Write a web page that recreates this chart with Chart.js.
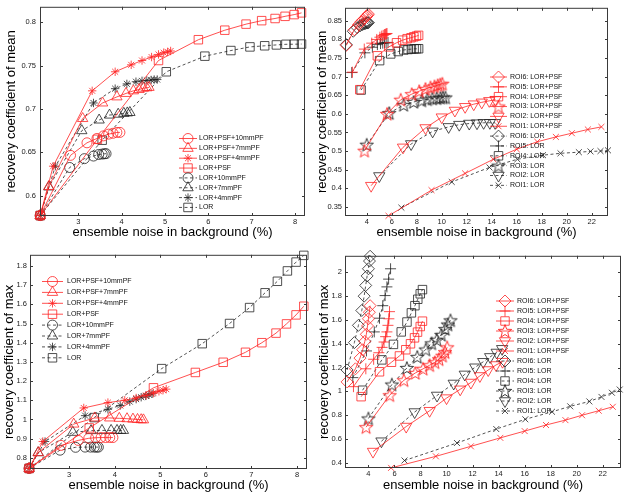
<!DOCTYPE html>
<html>
<head>
<meta charset="utf-8">
<script src="https://cdn.jsdelivr.net/npm/chart.js@4.4.0/dist/chart.umd.min.js"></script>
<style>
  body { margin: 0; background: #fff; }
  #wrap { position: relative; width: 630px; height: 496px; }
  .cell { position: absolute; width: 315px; height: 248px; }
</style>
</head>
<body>
<div id="wrap">
  <div class="cell" style="left:0;top:0"><canvas id="meanPf" width="315" height="248"></canvas></div>
  <div class="cell" style="left:315px;top:0"><canvas id="meanRoi" width="315" height="248"></canvas></div>
  <div class="cell" style="left:0;top:248px"><canvas id="maxPf" width="315" height="248"></canvas></div>
  <div class="cell" style="left:315px;top:248px"><canvas id="maxRoi" width="315" height="248"></canvas></div>
</div>
<script>
// ROI4 with post-filters (left column): noise x, mean RC, max RC
const pf10PsfX = [2.12, 2.82, 3.2, 3.43, 3.58, 3.7, 3.8, 3.89, 3.96];
const pf10PsfMean = [0.577, 0.6465, 0.661, 0.666, 0.669, 0.671, 0.672, 0.673, 0.673];
const pf10PsfMax = [0.745, 0.865, 0.891, 0.902, 0.905, 0.906, 0.906, 0.906, 0.906];

const pf7PsfX = [2.12, 2.32, 3.1, 3.56, 3.89, 4.1, 4.27, 4.4, 4.5, 4.58, 4.63];
const pf7PsfMean = [0.577, 0.6106, 0.689, 0.707, 0.714, 0.718, 0.721, 0.7225, 0.724, 0.7245, 0.725];
const pf7PsfMax = [0.745, 0.827, 0.976, 1.008, 1.008, 1.006, 1.004, 1.002, 1.0, 0.999, 0.998];

const pf4PsfX = [2.12, 2.42, 3.32, 3.85, 4.22, 4.47, 4.69, 4.85, 4.97, 5.06, 5.13];
const pf4PsfMean = [0.577, 0.634, 0.721, 0.743, 0.751, 0.756, 0.76, 0.763, 0.765, 0.766, 0.767];
const pf4PsfMax = [0.745, 0.885, 1.06, 1.088, 1.1, 1.112, 1.125, 1.137, 1.147, 1.153, 1.158];

const psfX = [2.12, 3.44, 4.85, 5.77, 6.38, 6.87, 7.23, 7.54, 7.77, 7.98, 8.15];
const psfMean = [0.577, 0.665, 0.756, 0.78, 0.791, 0.798, 0.802, 0.8045, 0.807, 0.809, 0.811];
const psfMax = [0.745, 0.956, 1.165, 1.245, 1.298, 1.35, 1.4, 1.45, 1.498, 1.545, 1.59];

const pf10X = [2.12, 2.8, 3.14, 3.35, 3.47, 3.55, 3.6, 3.64];
const pf10Mean = [0.577, 0.6325, 0.6427, 0.6457, 0.6475, 0.648, 0.6483, 0.6485];
const pf10Max = [0.745, 0.84, 0.855, 0.856, 0.856, 0.856, 0.856, 0.856];

const pf7X = [2.12, 2.32, 3.08, 3.48, 3.72, 3.92, 4.05, 4.13, 4.19];
const pf7Mean = [0.577, 0.61, 0.675, 0.6873, 0.693, 0.694, 0.695, 0.6955, 0.696];
const pf7Max = [0.745, 0.827, 0.933, 0.942, 0.943, 0.943, 0.943, 0.943, 0.943];

const pf4X = [2.12, 2.47, 3.35, 3.85, 4.12, 4.33, 4.47, 4.58, 4.68, 4.75, 4.82];
const pf4Mean = [0.577, 0.634, 0.707, 0.7235, 0.729, 0.7315, 0.7325, 0.733, 0.7335, 0.734, 0.734];
const pf4Max = [0.745, 0.885, 1.02, 1.053, 1.073, 1.093, 1.106, 1.116, 1.123, 1.129, 1.134];

const lorX = [2.12, 3.55, 5.03, 5.92, 6.52, 6.96, 7.3, 7.57, 7.79, 7.98, 8.15];
const lorMean = [0.577, 0.664, 0.743, 0.761, 0.7675, 0.7717, 0.773, 0.774, 0.7747, 0.7748, 0.775];
const lorMax = [0.745, 1.01, 1.265, 1.395, 1.5, 1.583, 1.66, 1.72, 1.774, 1.82, 1.855];

// ROIs (right column), ROI4 reuses the LOR+PSF / LOR curves above
const roi6PsfX = [2.36, 3.0, 3.35, 3.56, 3.72, 3.84, 3.93, 4.0, 4.07, 4.13];
const roi6PsfMean = [0.784, 0.826, 0.84, 0.848, 0.853, 0.857, 0.86, 0.863, 0.865, 0.868];
const roi6PsfMax = [1.08, 1.19, 1.28, 1.35, 1.42, 1.48, 1.55, 1.61, 1.665, 1.72];
const roi6LorX = [2.36, 2.92, 3.23, 3.49, 3.67, 3.79, 3.9, 4.0, 4.08, 4.13];
const roi6LorMean = [0.786, 0.822, 0.832, 0.837, 0.84, 0.842, 0.843, 0.844, 0.845, 0.845];
const roi6LorMax = [1.18, 1.41, 1.555, 1.68, 1.8, 1.89, 1.97, 2.03, 2.095, 2.135];

const roi5PsfX = [2.85, 3.8, 4.4, 4.8, 5.05, 5.2, 5.32, 5.42, 5.5, 5.57, 5.62];
const roi5PsfMean = [0.712, 0.774, 0.79, 0.8, 0.806, 0.809, 0.811, 0.813, 0.814, 0.815, 0.816];
const roi5PsfMax = [1.04, 1.19, 1.27, 1.325, 1.37, 1.415, 1.46, 1.5, 1.555, 1.61, 1.67];
const roi5LorX = [2.8, 3.85, 4.45, 4.85, 5.1, 5.28, 5.42, 5.55, 5.7];
const roi5LorMean = [0.711, 0.764, 0.779, 0.786, 0.789, 0.79, 0.791, 0.791, 0.792];
const roi5LorMax = [1.116, 1.34, 1.5, 1.615, 1.72, 1.805, 1.878, 1.943, 2.03];

const roi3PsfX = [3.82, 5.63, 6.72, 7.6, 8.2, 8.7, 9.1, 9.42, 9.68, 9.88, 10.05];
const roi3PsfMean = [0.501, 0.6, 0.638, 0.653, 0.661, 0.667, 0.671, 0.674, 0.677, 0.679, 0.681];
const roi3PsfMax = [0.7, 0.968, 1.094, 1.155, 1.19, 1.22, 1.245, 1.27, 1.3, 1.33, 1.37];
const roi3LorX = [4.0, 5.8, 6.95, 7.75, 8.4, 8.85, 9.25, 9.6, 9.9, 10.1, 10.3];
const roi3LorMean = [0.517, 0.602, 0.624, 0.632, 0.636, 0.639, 0.641, 0.642, 0.643, 0.644, 0.644];
const roi3LorMax = [0.773, 1.058, 1.197, 1.29, 1.352, 1.404, 1.434, 1.475, 1.524, 1.562, 1.597];

const roi2PsfX = [4.35, 6.9, 8.7, 10.0, 11.05, 11.87, 12.56, 13.2, 13.8, 14.3];
const roi2PsfMean = [0.407, 0.51, 0.562, 0.591, 0.609, 0.619, 0.626, 0.631, 0.635, 0.638];
const roi2PsfMax = [0.495, 0.705, 0.838, 0.944, 1.018, 1.075, 1.13, 1.18, 1.222, 1.25];
const roi2LorX = [5.0, 7.55, 9.27, 10.55, 11.4, 12.2, 12.82, 13.35, 13.85, 14.27];
const roi2LorMean = [0.433, 0.519, 0.553, 0.565, 0.571, 0.574, 0.575, 0.576, 0.576, 0.576];
const roi2LorMax = [0.582, 0.827, 0.966, 1.067, 1.143, 1.203, 1.249, 1.29, 1.327, 1.358];

const roi1PsfX = [5.74, 9.18, 11.87, 14.13, 16.0, 17.64, 19.13, 20.41, 21.69, 22.77];
const roi1PsfMean = [0.326, 0.395, 0.44, 0.478, 0.505, 0.525, 0.538, 0.548, 0.558, 0.565];
const roi1PsfMax = [0.358, 0.455, 0.539, 0.61, 0.667, 0.718, 0.759, 0.8, 0.838, 0.871];
const roi1LorX = [6.77, 10.8, 13.82, 16.05, 18.1, 19.5, 20.97, 21.9, 22.7, 23.3];
const roi1LorMean = [0.348, 0.417, 0.456, 0.478, 0.489, 0.494, 0.497, 0.499, 0.5, 0.502];
const roi1LorMax = [0.42, 0.567, 0.684, 0.766, 0.829, 0.875, 0.916, 0.954, 0.989, 1.016];

// tick labels
const pfXTicks = [3, 4, 5, 6, 7, 8];
const meanPfYTicks = [0.6, 0.65, 0.7, 0.75, 0.8];
const maxPfYTicks = [0.8, 0.9, 1, 1.1, 1.2, 1.3, 1.4, 1.5, 1.6, 1.7, 1.8];
const roiXTicks = [4, 6, 8, 10, 12, 14, 16, 18, 20, 22];
const meanRoiYTicks = [0.35, 0.4, 0.45, 0.5, 0.55, 0.6, 0.65, 0.7, 0.75, 0.8, 0.85];
const maxRoiYTicks = [0.4, 0.6, 0.8, 1, 1.2, 1.4, 1.6, 1.8, 2];

Chart.defaults.font.family = "'Liberation Sans', Arial, sans-serif";
Chart.defaults.animation = false;

const RED = 'rgb(255,35,35)';
const DARK = 'rgb(35,35,35)';

function starImage(color) {
  const s = 16, c = document.createElement('canvas');
  c.width = s; c.height = s;
  const g = c.getContext('2d');
  g.strokeStyle = color;
  g.lineWidth = 0.9;
  g.beginPath();
  for (let i = 0; i < 10; i++) {
    const r = i % 2 ? 2.9 : 7;
    const a = -Math.PI / 2 + i * Math.PI / 5;
    const px = s / 2 + r * Math.cos(a), py = s / 2 + 0.6 + r * Math.sin(a);
    if (i) g.lineTo(px, py); else g.moveTo(px, py);
  }
  g.closePath();
  g.stroke();
  return c;
}
const starRed = starImage(RED);
const starDark = starImage(DARK);

const MARKERS = {
  circle: { style: 'circle', r: 5 },
  tri: { style: 'triangle', r: 6 },
  star: { style: 'star', r: 4.2 },
  square: { style: 'rect', r: 6 },
  diamond: { style: 'rectRot', r: 6 },
  plus: { style: 'cross', r: 5.5 },
  ex: { style: 'crossRot', r: 4.2 },
  tdown: { style: 'triangle', r: 6.5, rot: 180 },
  penta: { style: 'penta', r: 7 }
};

function series(label, xs, ys, kind, mk) {
  const psf = kind === 'psf';
  const color = psf ? RED : DARK;
  const m = MARKERS[mk];
  return {
    label: label,
    data: xs.map((x, i) => ({ x: x, y: ys[i] })),
    borderColor: psf ? RED : 'rgb(40,40,40)',
    borderWidth: 0.8,
    borderDash: psf ? [] : [3, 2.5],
    pointStyle: m.style === 'penta' ? (psf ? starRed : starDark) : m.style,
    pointRadius: m.r,
    pointRotation: m.rot || 0,
    pointBorderColor: color,
    pointBorderWidth: 0.8,
    pointBackgroundColor: 'rgba(0,0,0,0)',
    tension: 0,
    fill: false,
    clip: 8
  };
}

const fmt = v => String(parseFloat(Number(v).toFixed(2)));

function makeChart(id, o) {
  const W = 315, H = 248;
  const a = o.area;
  const lg = o.legend;

  const frame = {
    id: 'frame',
    afterDatasetsDraw(chart) {
      const ctx = chart.ctx;
      ctx.save();
      ctx.font = "7px 'Liberation Sans', Arial, sans-serif";
      ctx.textBaseline = 'middle';
      chart.data.datasets.forEach((ds, i) => {
        const y = lg.y0 + i * lg.dy;
        ctx.strokeStyle = ds.borderColor;
        ctx.lineWidth = ds.borderWidth;
        ctx.setLineDash(ds.borderDash);
        ctx.beginPath();
        ctx.moveTo(lg.x0, y);
        ctx.lineTo(lg.x1, y);
        ctx.stroke();
        ctx.setLineDash([]);
        ctx.strokeStyle = ds.pointBorderColor;
        ctx.fillStyle = 'rgba(0,0,0,0)';
        ctx.lineWidth = ds.pointBorderWidth;
        Chart.helpers.drawPoint(ctx, {
          pointStyle: ds.pointStyle,
          rotation: ds.pointRotation,
          radius: ds.pointRadius,
          borderWidth: ds.pointBorderWidth
        }, (lg.x0 + lg.x1) / 2, y);
        ctx.fillStyle = '#111';
        ctx.fillText(ds.label, lg.tx, y);
      });
      ctx.restore();
    },
    afterDraw(chart) {
      const ctx = chart.ctx, c = chart.chartArea;
      const xs = chart.scales.x, ys = chart.scales.y;
      ctx.save();
      ctx.strokeStyle = '#3a3a3a';
      ctx.lineWidth = 1;
      ctx.strokeRect(c.left + 0.5, c.top + 0.5, c.right - c.left - 1, c.bottom - c.top - 1);
      ctx.beginPath();
      xs.ticks.forEach(t => {
        const p = Math.round(xs.getPixelForValue(t.value)) + 0.5;
        ctx.moveTo(p, c.bottom); ctx.lineTo(p, c.bottom - 3);
        ctx.moveTo(p, c.top); ctx.lineTo(p, c.top + 3);
      });
      ys.ticks.forEach(t => {
        const p = Math.round(ys.getPixelForValue(t.value)) + 0.5;
        ctx.moveTo(c.left, p); ctx.lineTo(c.left + 3, p);
        ctx.moveTo(c.right, p); ctx.lineTo(c.right - 3, p);
      });
      ctx.stroke();
      ctx.restore();
    }
  };

  return new Chart(document.getElementById(id), {
    type: 'line',
    data: { datasets: o.datasets },
    options: {
      responsive: false,
      animation: false,
      layout: { padding: { left: 0, top: a.t, right: W - a.r, bottom: 0 } },
      plugins: { legend: { display: false }, tooltip: { enabled: false } },
      scales: {
        x: {
          type: 'linear',
          min: o.xMin, max: o.xMax,
          grid: { display: false, drawTicks: false },
          border: { display: false },
          afterBuildTicks: s => { s.ticks = o.xTicks.map(v => ({ value: v })); },
          afterFit: s => { s.height = H - a.b; s.paddingLeft = 0; s.paddingRight = 0; },
          ticks: {
            callback: fmt, autoSkip: false, maxRotation: 0, minRotation: 0,
            padding: o.xTickPad, color: '#222', font: { size: 7.5 }
          },
          title: {
            display: true, text: 'ensemble noise in background (%)', color: '#000',
            font: { size: 13 }, padding: { top: 0, bottom: o.xTitlePad }
          }
        },
        y: {
          type: 'linear',
          min: o.yMin, max: o.yMax,
          grid: { display: false, drawTicks: false },
          border: { display: false },
          afterBuildTicks: s => { s.ticks = o.yTicks.map(v => ({ value: v })); },
          afterFit: s => { s.width = a.l; s.paddingTop = 0; s.paddingBottom = 0; },
          ticks: {
            callback: fmt, autoSkip: false,
            padding: o.yTickPad, color: '#222', font: { size: 7.5 }
          },
          title: {
            display: true, text: o.yTitle, color: '#000',
            font: { size: 13 }, padding: { top: o.yTitlePad, bottom: 0 }
          }
        }
      }
    },
    plugins: [frame]
  });
}

makeChart('meanPf', {
  datasets: [
    series('LOR+PSF+10mmPF', pf10PsfX, pf10PsfMean, 'psf', 'circle'),
    series('LOR+PSF+7mmPF', pf7PsfX, pf7PsfMean, 'psf', 'tri'),
    series('LOR+PSF+4mmPF', pf4PsfX, pf4PsfMean, 'psf', 'star'),
    series('LOR+PSF', psfX, psfMean, 'psf', 'square'),
    series('LOR+10mmPF', pf10X, pf10Mean, 'lor', 'circle'),
    series('LOR+7mmPF', pf7X, pf7Mean, 'lor', 'tri'),
    series('LOR+4mmPF', pf4X, pf4Mean, 'lor', 'star'),
    series('LOR', lorX, lorMean, 'lor', 'square')
  ],
  xMin: 2.116, xMax: 8.23, yMin: 0.5765, yMax: 0.818,
  xTicks: pfXTicks, yTicks: meanPfYTicks,
  yTitle: 'recovery coefficient of mean',
  area: { l: 40, r: 305, t: 3, b: 216 },
  xTickPad: 1.5, xTitlePad: 8, yTickPad: 4, yTitlePad: 4,
  legend: { x0: 179, x1: 197, tx: 199, y0: 138.5, dy: 9.85 }
});

makeChart('meanRoi', {
  datasets: [
    series('ROI6: LOR+PSF', roi6PsfX, roi6PsfMean, 'psf', 'diamond'),
    series('ROI5: LOR+PSF', roi5PsfX, roi5PsfMean, 'psf', 'plus'),
    series('ROI4: LOR+PSF', psfX.slice(1), psfMean.slice(1), 'psf', 'square'),
    series('ROI3: LOR+PSF', roi3PsfX, roi3PsfMean, 'psf', 'penta'),
    series('ROI2: LOR+PSF', roi2PsfX, roi2PsfMean, 'psf', 'tdown'),
    series('ROI1: LOR+PSF', roi1PsfX, roi1PsfMean, 'psf', 'ex'),
    series('ROI6: LOR', roi6LorX, roi6LorMean, 'lor', 'diamond'),
    series('ROI5: LOR', roi5LorX, roi5LorMean, 'lor', 'plus'),
    series('ROI4: LOR', lorX.slice(1), lorMean.slice(1), 'lor', 'square'),
    series('ROI3: LOR', roi3LorX, roi3LorMean, 'lor', 'penta'),
    series('ROI2: LOR', roi2LorX, roi2LorMean, 'lor', 'tdown'),
    series('ROI1: LOR', roi1LorX, roi1LorMean, 'lor', 'ex')
  ],
  xMin: 2.26, xMax: 23.3, yMin: 0.3255, yMax: 0.885,
  xTicks: roiXTicks, yTicks: meanRoiYTicks,
  yTitle: 'recovery coefficient of mean',
  area: { l: 30, r: 293, t: 3, b: 216 },
  xTickPad: 1.5, xTitlePad: 8, yTickPad: 3, yTitlePad: 0,
  legend: { x0: 175, x1: 192, tx: 195, y0: 77, dy: 9.85 }
});

makeChart('maxPf', {
  datasets: [
    series('LOR+PSF+10mmPF', pf10PsfX, pf10PsfMax, 'psf', 'circle'),
    series('LOR+PSF+7mmPF', pf7PsfX, pf7PsfMax, 'psf', 'tri'),
    series('LOR+PSF+4mmPF', pf4PsfX, pf4PsfMax, 'psf', 'star'),
    series('LOR+PSF', psfX, psfMax, 'psf', 'square'),
    series('LOR+10mmPF', pf10X, pf10Max, 'lor', 'circle'),
    series('LOR+7mmPF', pf7X, pf7Max, 'lor', 'tri'),
    series('LOR+4mmPF', pf4X, pf4Max, 'lor', 'star'),
    series('LOR', lorX, lorMax, 'lor', 'square')
  ],
  xMin: 2.14, xMax: 8.22, yMin: 0.742, yMax: 1.858,
  xTicks: pfXTicks, yTicks: maxPfYTicks,
  yTitle: 'recovery coefficient of max',
  area: { l: 30, r: 307, t: 3, b: 221 },
  xTickPad: 1, xTitlePad: 3, yTickPad: 3, yTitlePad: 2,
  legend: { x0: 42, x1: 63, tx: 67, y0: 33.5, dy: 10.9 }
});

makeChart('maxRoi', {
  datasets: [
    series('ROI6: LOR+PSF', roi6PsfX, roi6PsfMax, 'psf', 'diamond'),
    series('ROI5: LOR+PSF', roi5PsfX, roi5PsfMax, 'psf', 'plus'),
    series('ROI4: LOR+PSF', psfX.slice(1), psfMax.slice(1), 'psf', 'square'),
    series('ROI3: LOR+PSF', roi3PsfX, roi3PsfMax, 'psf', 'penta'),
    series('ROI2: LOR+PSF', roi2PsfX, roi2PsfMax, 'psf', 'tdown'),
    series('ROI1: LOR+PSF', roi1PsfX, roi1PsfMax, 'psf', 'ex'),
    series('ROI6: LOR', roi6LorX, roi6LorMax, 'lor', 'diamond'),
    series('ROI5: LOR', roi5LorX, roi5LorMax, 'lor', 'plus'),
    series('ROI4: LOR', lorX.slice(1), lorMax.slice(1), 'lor', 'square'),
    series('ROI3: LOR', roi3LorX, roi3LorMax, 'lor', 'penta'),
    series('ROI2: LOR', roi2LorX, roi2LorMax, 'lor', 'tdown'),
    series('ROI1: LOR', roi1LorX, roi1LorMax, 'lor', 'ex')
  ],
  xMin: 2.2, xMax: 23.4, yMin: 0.357, yMax: 2.139,
  xTicks: roiXTicks, yTicks: maxRoiYTicks,
  yTitle: 'recovery coefficient of max',
  area: { l: 30, r: 306, t: 2, b: 220 },
  xTickPad: 1.5, xTitlePad: 3, yTickPad: 3, yTitlePad: 2,
  legend: { x0: 181, x1: 199, tx: 202, y0: 53, dy: 10 }
});
</script>
</body>
</html>
